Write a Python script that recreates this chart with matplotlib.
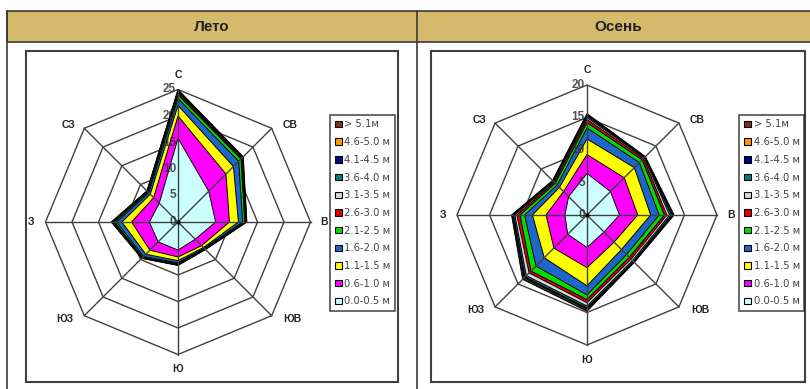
import numpy as np
import matplotlib.pyplot as plt
from matplotlib.patches import Polygon, Rectangle, Patch
from matplotlib.lines import Line2D

W, H = 810, 389

directions = ['С', 'СВ', 'В', 'ЮВ', 'Ю', 'ЮЗ', 'З', 'СЗ']

# wave height bands, inner -> outer
bands = ['0.0-0.5 м', '0.6-1.0 м', '1.1-1.5 м', '1.6-2.0 м', '2.1-2.5 м', '2.6-3.0 м',
         '3.1-3.5 м', '3.6-4.0 м', '4.1-4.5 м', '4.6-5.0 м', '> 5.1м']
band_colors = ['#CCFFFF', '#FF00FF', '#FFFF00', '#1F66CC', '#00DD00', '#E00000',
               '#D8D8D8', '#008080', '#000080', '#FF9900', '#8B2F14']

# cumulative repeatability (%) per direction, one row per band
summer_cum = [
    [15.8, 8.2, 7.1, 4.6, 5.3, 5.3, 5.4, 5.0],
    [20.0, 12.8, 9.7, 6.3, 6.6, 7.5, 8.75, 6.5],
    [22.0, 14.8, 11.4, 6.8, 7.3, 8.6, 10.6, 7.4],
    [23.3, 16.2, 12.2, 7.0, 7.7, 9.2, 11.6, 7.8],
    [24.0, 16.8, 12.6, 7.1, 7.9, 9.4, 12.0, 8.0],
    [24.3, 17.0, 12.7, 7.15, 8.0, 9.5, 12.2, 8.1],
    [24.5, 17.15, 12.8, 7.2, 8.05, 9.55, 12.3, 8.15],
    [24.65, 17.25, 12.85, 7.25, 8.1, 9.6, 12.4, 8.2],
    [24.75, 17.3, 12.9, 7.3, 8.1, 9.6, 12.45, 8.2],
    [24.85, 17.35, 12.95, 7.3, 8.15, 9.65, 12.5, 8.25],
    [25.0, 17.4, 13.0, 7.35, 8.2, 9.7, 12.6, 8.3],
]
autumn_cum = [
    [6.4, 5.1, 5.0, 3.7, 5.0, 4.2, 3.4, 4.0],
    [9.3, 8.1, 7.8, 5.9, 8.1, 7.2, 6.3, 5.1],
    [11.7, 10.3, 9.8, 7.5, 10.9, 9.3, 8.4, 6.0],
    [13.4, 11.4, 11.1, 8.6, 12.3, 11.1, 9.6, 6.5],
    [14.2, 12.0, 11.9, 9.2, 13.0, 12.2, 10.3, 6.9],
    [14.7, 12.3, 12.3, 9.6, 13.5, 12.6, 10.8, 7.1],
    [15.0, 12.45, 12.7, 9.9, 14.0, 13.2, 11.1, 7.25],
    [15.25, 12.55, 13.0, 10.1, 14.3, 13.5, 11.3, 7.35],
    [15.4, 12.6, 13.2, 10.2, 14.5, 13.7, 11.45, 7.4],
    [15.5, 12.65, 13.3, 10.25, 14.7, 13.9, 11.55, 7.45],
    [15.6, 12.7, 13.4, 10.3, 14.8, 14.0, 11.6, 7.5],
]

titles = ['Лето', 'Осень']

plt.rcParams['font.family'] = ['Liberation Sans', 'DejaVu Sans']

fig = plt.figure(figsize=(W / 100, H / 100), dpi=100)
fig.patch.set_facecolor('white')


def fx(x):
    return x / W


def fy(y):
    return 1 - y / H


def px_axes(cx, cy, size):
    return fig.add_axes([fx(cx - size / 2), fy(cy + size / 2), size / W, size / H])


# table frame
line_col = '#3a3a3a'
fig.add_artist(Rectangle((fx(7), fy(42)), fx(820 - 7), 31 / H, transform=fig.transFigure,
                         facecolor='#D6BA6C', edgecolor=line_col, lw=1.2, clip_on=False))
fig.add_artist(Line2D([fx(7), fx(7)], [fy(11), fy(395)], transform=fig.transFigure, color=line_col, lw=1.2))
fig.add_artist(Line2D([fx(417), fx(417)], [fy(11), fy(395)], transform=fig.transFigure, color=line_col, lw=1.2))
fig.text(fx(212), fy(27), titles[0], ha='center', va='center', fontsize=11, fontweight='bold', color='#222222')
fig.text(fx(618), fy(27), titles[1], ha='center', va='center', fontsize=11, fontweight='bold', color='#222222')

# chart boxes
for x0, x1 in [(26, 398), (431, 805)]:
    fig.add_artist(Rectangle((fx(x0), fy(382)), (x1 - x0) / W, (382 - 51) / H, transform=fig.transFigure,
                             facecolor='none', edgecolor='#404040', lw=1.5))

label_off = {'С': (0, 15), 'СВ': (18, 3), 'В': (14, 0), 'ЮВ': (21, -3),
             'Ю': (0, -15), 'ЮЗ': (-19, -3), 'З': (-14, 0), 'СЗ': (-16, 3)}

angles = np.arange(len(directions)) * 2 * np.pi / len(directions)


def radar(ax, cum, rmax, step, lim):
    ax.set_xlim(-lim, lim)
    ax.set_ylim(-lim, lim)
    ax.axis('off')
    sx, cy = np.sin(angles), np.cos(angles)
    # rings
    for v in range(step, rmax + 1, step):
        ax.add_patch(Polygon(np.column_stack([v * sx, v * cy]), closed=True, fill=False,
                             edgecolor='#404040', lw=1.0, zorder=1))
    # filled bands, outermost first
    for i in range(len(cum) - 1, -1, -1):
        r = np.array(cum[i])
        ax.add_patch(Polygon(np.column_stack([r * sx, r * cy]), closed=True,
                             facecolor=band_colors[i], edgecolor='black', lw=0.7, zorder=2))
    # spokes
    for a in angles:
        ax.plot([0, rmax * np.sin(a)], [0, rmax * np.cos(a)], color='#404040', lw=1.0, zorder=5)
    ax.plot([0], [0], 'o', color='black', ms=2, zorder=6)
    # radial labels
    for v in range(0, rmax + 1, step):
        ax.annotate(str(v), (0, v), xytext=(-2, 0), textcoords='offset pixels', ha='right', va='center',
                    fontsize=8.5, fontweight='bold', color='#333333', zorder=7, alpha=0.85)
    # direction labels
    for d, a in zip(directions, angles):
        ax.annotate(d, (rmax * np.sin(a), rmax * np.cos(a)), xytext=label_off[d], textcoords='offset pixels',
                    ha='center', va='center', fontsize=7.5, fontweight='bold', color='#222222',
                    annotation_clip=False)


ax1 = px_axes(178, 222, 318)
radar(ax1, summer_cum, 25, 5, 30)
ax2 = px_axes(587, 215, 312)
radar(ax2, autumn_cum, 20, 5, 24)

handles = [Patch(facecolor=c, edgecolor='black', lw=0.8) for c in band_colors][::-1]
labels = bands[::-1]
for lx in [330, 739]:
    leg = fig.legend(handles, labels, loc='upper left', bbox_to_anchor=(fx(lx), fy(115)),
                     bbox_transform=fig.transFigure, frameon=True,
                     prop={'family': 'DejaVu Sans', 'size': 7.2},
                     fancybox=False, edgecolor='#222222', handlelength=0.7, handleheight=0.6,
                     handletextpad=0.3, borderpad=0.45, borderaxespad=0, labelspacing=0.77)
    leg.get_frame().set_linewidth(1.2)
    for t in leg.get_texts():
        t.set_color('#444444')

fig.savefig('out.png', dpi=100)
